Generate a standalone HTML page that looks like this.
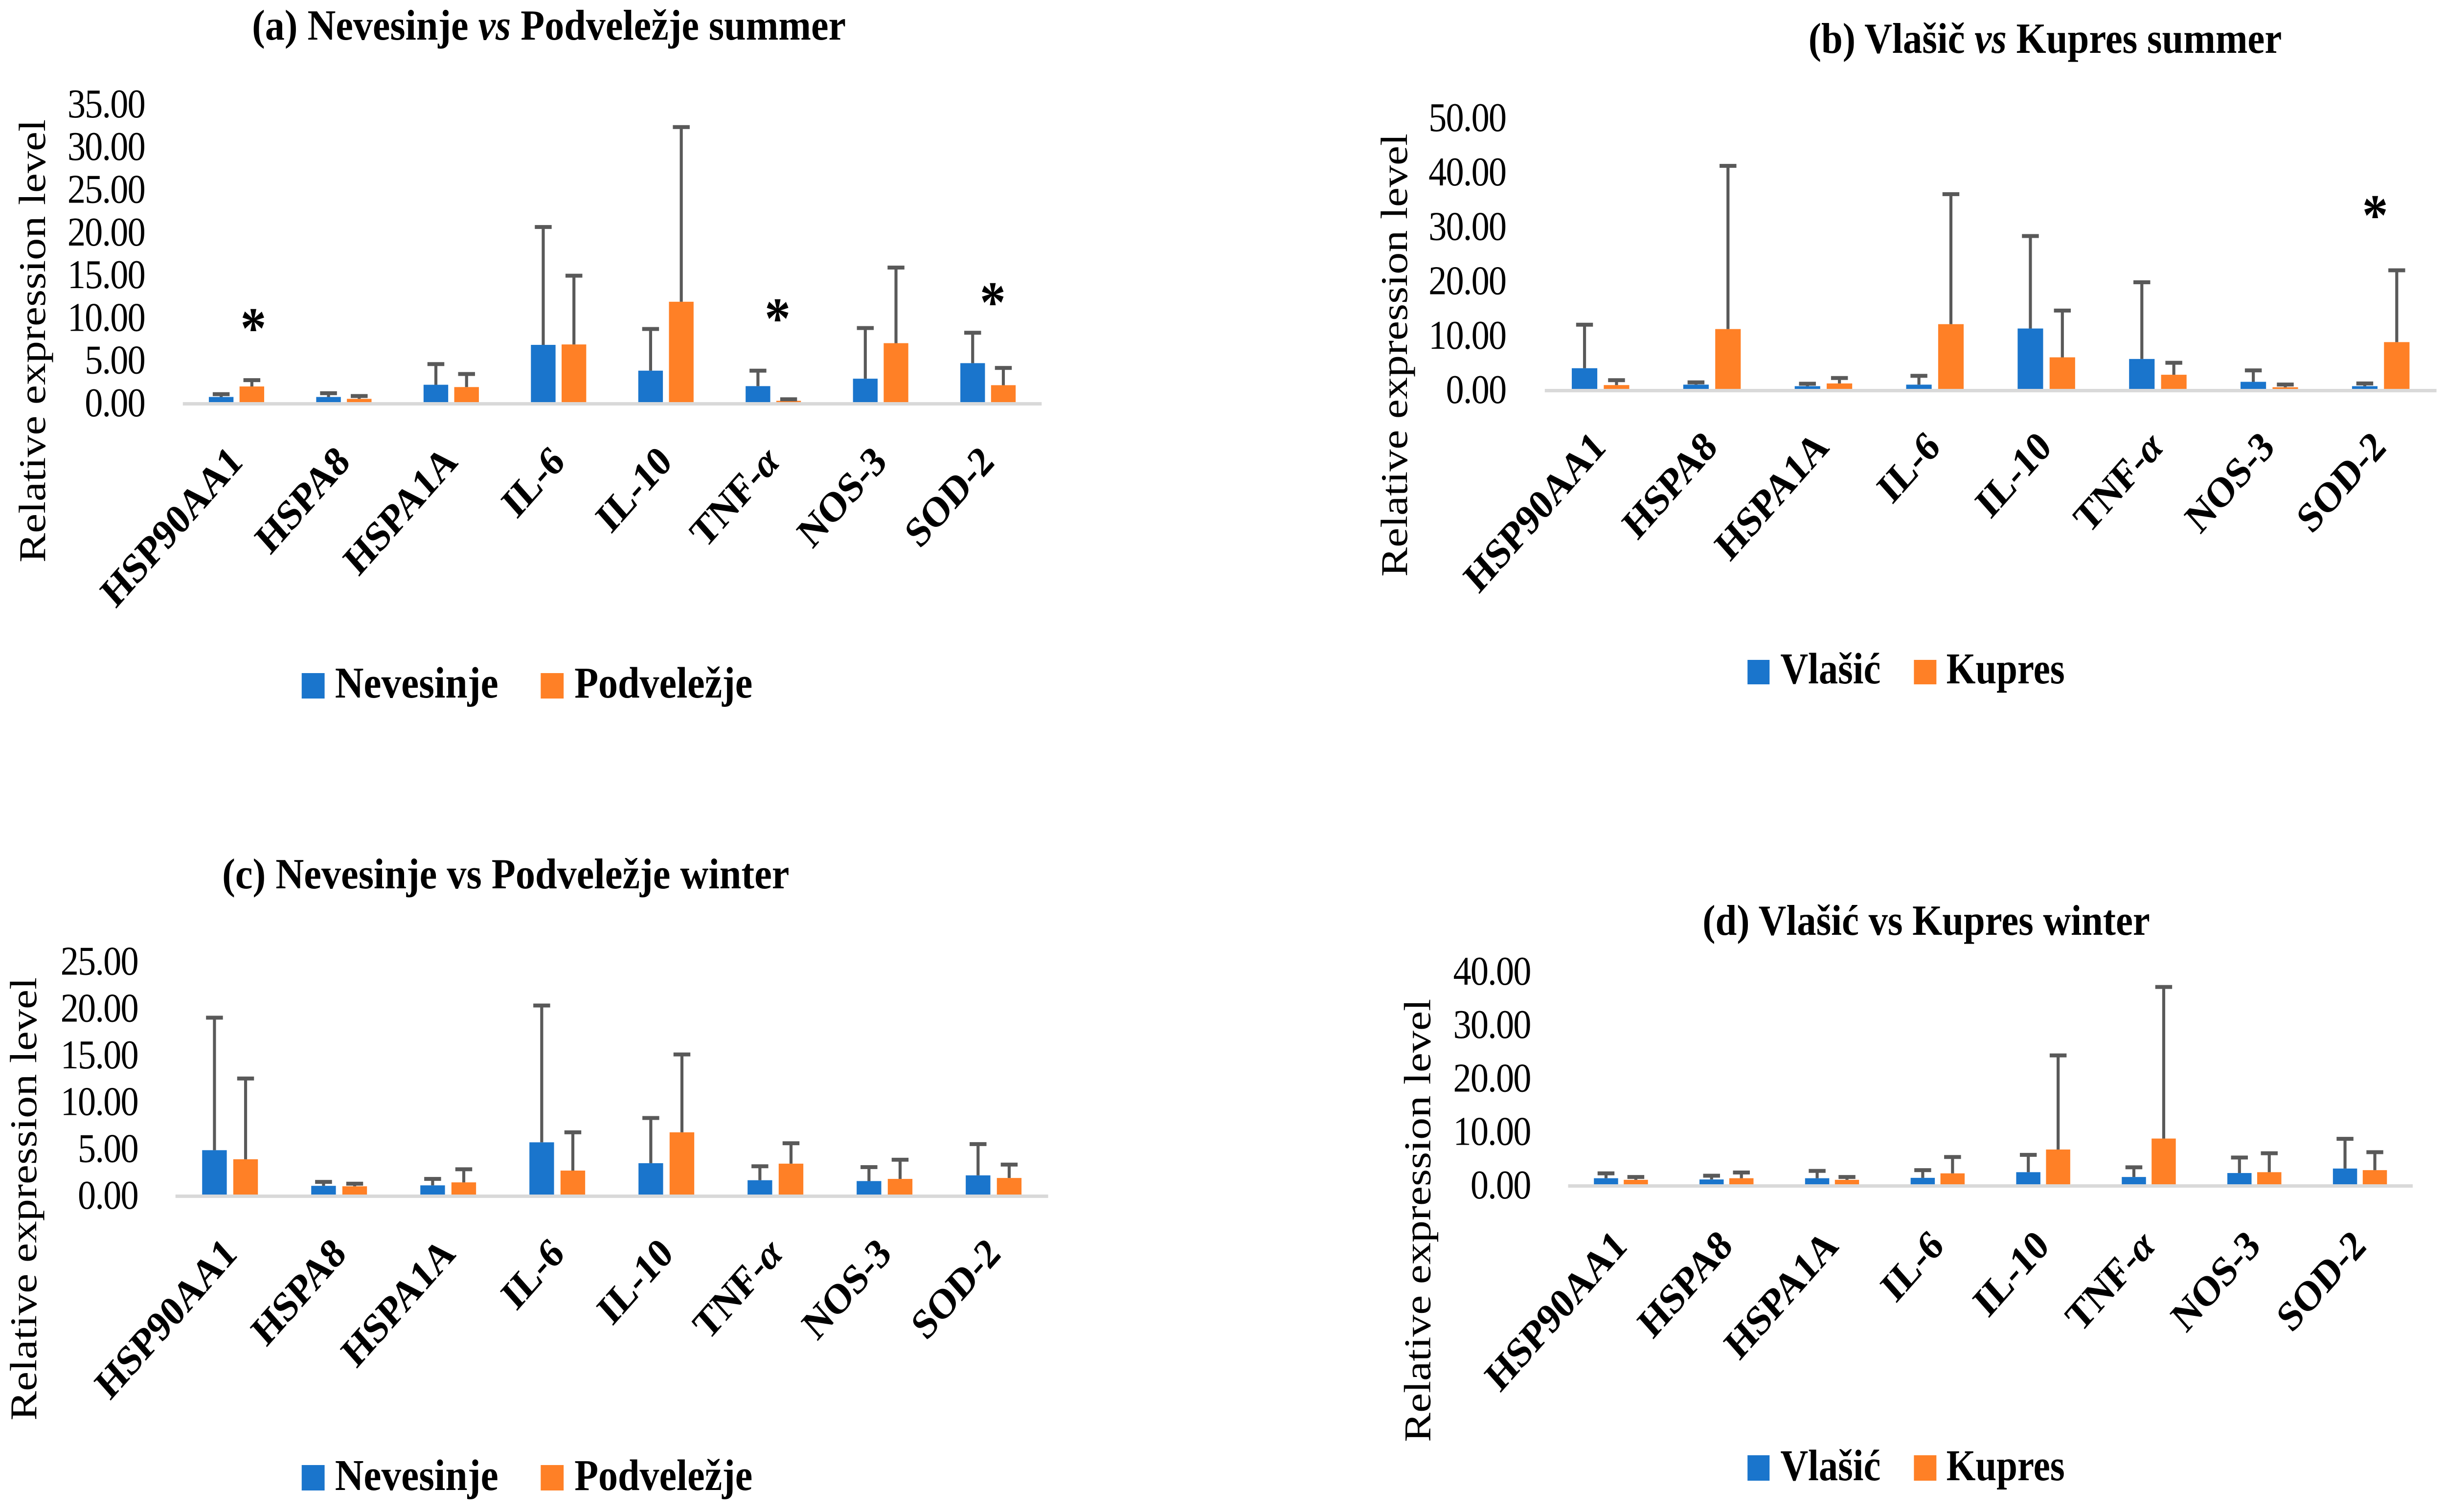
<!DOCTYPE html>
<html>
<head>
<meta charset="utf-8">
<title>Relative expression level charts</title>
<style>
html,body{margin:0;padding:0;background:#fff;width:100%;height:100%;overflow:hidden;}
svg{display:block;position:absolute;left:0;top:0;width:100vw;height:100vh;}
text{font-family:"Liberation Serif","DejaVu Serif",serif;fill:#000;}
.title{font-size:88px;font-weight:bold;}
.legend{font-size:90px;font-weight:bold;}
.ytitle{font-size:87px;}
.tick{font-size:84px;letter-spacing:-2px;text-anchor:end;}
.cat{font-size:86px;font-weight:bold;text-anchor:end;}
.star{font-size:120px;font-weight:bold;text-anchor:middle;}
</style>
</head>
<body>
<svg id="root" xmlns="http://www.w3.org/2000/svg" viewBox="0 0 5659 3091" preserveAspectRatio="none">
  <rect x="0" y="0" width="5659" height="3091" fill="#ffffff"/>

  <g id="panel-a">
    <text class="title" x="583" y="81" textLength="1374" lengthAdjust="spacingAndGlyphs">(a) Nevesinje <tspan font-style="italic">vs</tspan> Podveležje summer</text>
    <text class="ytitle" transform="translate(104,1150) rotate(-90)" textLength="906" lengthAdjust="spacingAndGlyphs">Relative expression level</text>
    <rect x="698" y="1376" width="53" height="52" fill="#1a75cc"/>
    <text class="legend" x="775" y="1426" textLength="378" lengthAdjust="spacingAndGlyphs">Nevesinje</text>
    <rect x="1251" y="1376" width="53" height="52" fill="#ff8026"/>
    <text class="legend" x="1329" y="1426" textLength="412" lengthAdjust="spacingAndGlyphs">Podveležje</text>
  </g>

  <g id="panel-b">
    <text class="title" x="4184" y="108" textLength="1095" lengthAdjust="spacingAndGlyphs">(b) Vlašič <tspan font-style="italic">vs</tspan> Kupres summer</text>
    <text class="ytitle" transform="translate(3255,1179) rotate(-90)" textLength="906" lengthAdjust="spacingAndGlyphs">Relative expression level</text>
    <rect x="4043" y="1349" width="51" height="50" fill="#1a75cc"/>
    <text class="legend" x="4119" y="1397" textLength="232" lengthAdjust="spacingAndGlyphs">Vlašić</text>
    <rect x="4428" y="1349" width="52" height="50" fill="#ff8026"/>
    <text class="legend" x="4503" y="1397" textLength="274" lengthAdjust="spacingAndGlyphs">Kupres</text>
  </g>

  <g id="panel-c">
    <text class="title" x="514" y="1816" textLength="1312" lengthAdjust="spacingAndGlyphs">(c) Nevesinje vs Podveležje winter</text>
    <text class="ytitle" transform="translate(84,2904) rotate(-90)" textLength="906" lengthAdjust="spacingAndGlyphs">Relative expression level</text>
    <rect x="698" y="2995" width="53" height="52" fill="#1a75cc"/>
    <text class="legend" x="775" y="3046" textLength="378" lengthAdjust="spacingAndGlyphs">Nevesinje</text>
    <rect x="1251" y="2995" width="53" height="52" fill="#ff8026"/>
    <text class="legend" x="1329" y="3046" textLength="412" lengthAdjust="spacingAndGlyphs">Podveležje</text>
  </g>

  <g id="panel-d">
    <text class="title" x="3939" y="1911" textLength="1035" lengthAdjust="spacingAndGlyphs">(d) Vlašić vs Kupres winter</text>
    <text class="ytitle" transform="translate(3309,2948) rotate(-90)" textLength="906" lengthAdjust="spacingAndGlyphs">Relative expression level</text>
    <rect x="4043" y="2975" width="51" height="52" fill="#1a75cc"/>
    <text class="legend" x="4119" y="3026" textLength="232" lengthAdjust="spacingAndGlyphs">Vlašić</text>
    <rect x="4428" y="2975" width="52" height="52" fill="#ff8026"/>
    <text class="legend" x="4503" y="3026" textLength="274" lengthAdjust="spacingAndGlyphs">Kupres</text>
  </g>
</svg>

<script>
var categories = ['HSP90AA1','HSPA8','HSPA1A','IL-6','IL-10','TNF-α','NOS-3','SOD-2'];

var aTicks = ['0.00','5.00','10.00','15.00','20.00','25.00','30.00','35.00'];
var aBlue = [0.6,0.6,2.03,6.7,3.68,1.87,2.74,4.56];
var aOrange = [1.83,0.38,1.76,6.75,11.75,0.15,6.9,1.98];
var aBlueErrTop = [0.93,1.04,4.45,20.5,8.56,3.68,8.67,8.12];
var aOrangeErrTop = [2.57,0.71,3.29,14.8,32.2,0.33,15.75,4.0];
var aStars = ['HSP90AA1','TNF-α','SOD-2'];

var bTicks = ['0.00','10.00','20.00','30.00','40.00','50.00'];
var bBlue = [3.8,0.78,0.5,0.78,11.1,5.5,1.3,0.5];
var bOrange = [0.7,11.0,1.0,11.9,5.8,2.6,0.3,8.6];
var bBlueErrTop = [11.8,1.2,0.95,2.4,28.1,19.6,3.4,1.0];
var bOrangeErrTop = [1.6,41.0,2.0,35.8,14.4,4.8,0.8,21.8];
var bStars = ['SOD-2'];

var cTicks = ['0.00','5.00','10.00','15.00','20.00','25.00'];
var cBlue = [4.74,0.93,0.98,5.58,3.35,1.53,1.44,2.05];
var cOrange = [3.77,0.88,1.3,2.56,6.65,3.3,1.67,1.77];
var cBlueErrTop = [18.9,1.35,1.67,20.2,8.18,3.02,2.93,5.39];
var cOrangeErrTop = [12.4,1.16,2.7,6.65,14.97,5.48,3.72,3.2];
var cStars = [];

var dTicks = ['0.00','10.00','20.00','30.00','40.00'];
var dBlue = [1.13,0.9,1.13,1.2,2.26,1.36,2.1,2.94];
var dOrange = [0.83,1.13,0.83,2.04,6.5,8.55,2.26,2.64];
var dBlueErrTop = [2.04,1.6,2.5,2.64,5.5,3.17,5.0,8.5];
var dOrangeErrTop = [1.36,2.2,1.36,5.1,24.1,36.9,5.8,6.0];
var dStars = [];

var NS = 'http://www.w3.org/2000/svg';

function make(parent, tag, attrs) {
  var el = document.createElementNS(NS, tag);
  for (var k in attrs) { el.setAttribute(k, attrs[k]); }
  parent.appendChild(el);
  return el;
}

function drawPanel(id, layout, ticks, blue, orange, blueErr, orangeErr, stars) {
  var g = document.getElementById(id);
  var pitch = (layout.x1 - layout.x0) / categories.length;
  function yScale(v) { return layout.base - v * layout.unit; }
  function xCenter(i) { return layout.x0 + pitch * (i + 0.5); }

  ticks.forEach(function (label) {
    var t = make(g, 'text', {'class': 'tick', x: layout.tickRight, y: yScale(parseFloat(label)) + 29});
    
    
    t.textContent = label;
  });

  var axis = make(g, 'rect', {x: layout.x0, y: layout.base, width: layout.x1 - layout.x0, height: 7, fill: '#d9d9d9'});
  
  

  function series(values, tops, offset, colour, seriesName) {
    values.forEach(function (v, i) {
      var left = xCenter(i) + offset;
      var mid = left + layout.barW / 2;
      var bar = make(g, 'rect', {x: left, y: yScale(v), width: layout.barW, height: v * layout.unit, fill: colour});
      
      
      var stem = make(g, 'rect', {x: mid - 3.5, y: yScale(tops[i]), width: 7, height: (tops[i] - v) * layout.unit, fill: '#595959'});
      
      
      var cap = make(g, 'rect', {x: mid - 19.5, y: yScale(tops[i]) - 4, width: 39, height: 8, fill: '#595959'});
      
      
    });
  }
  series(blue, blueErr, -layout.gap / 2 - layout.barW, '#1a75cc', 'blue-series');
  series(orange, orangeErr, layout.gap / 2, '#ff8026', 'orange-series');

  categories.forEach(function (name, i) {
    var ax = xCenter(i) + layout.labelDx;
    var ay = layout.base + layout.labelDy;
    var t = make(g, 'text', {'class': 'cat', transform: 'translate(' + ax + ',' + ay + ') rotate(-45)'});
    
    
    var parts = name.split('α');
    t.appendChild(document.createTextNode(parts[0]));
    if (parts.length > 1) {
      var a = make(t, 'tspan', {'font-style': 'italic'});
      a.textContent = 'α';
    }
  });

  stars.forEach(function (name) {
    var i = categories.indexOf(name);
    var place = layout.stars[name];
    var s = make(g, 'text', {'class': 'star', x: xCenter(i) + place.dx, y: place.y});
    
    
    s.textContent = '*';
  });
}

drawPanel('panel-a', {x0: 423, x1: 2410, base: 822, unit: 17.46, barW: 57, gap: 14, tickRight: 335, labelDx: 18, labelDy: 126,
  stars: {'HSP90AA1': {dx: 39, y: 711}, 'TNF-α': {dx: 10, y: 691}, 'SOD-2': {dx: 11, y: 658}}}, aTicks, aBlue, aOrange, aBlueErrTop, aOrangeErrTop, aStars);
drawPanel('panel-b', {x0: 3574, x1: 5637, base: 795, unit: 11.12, barW: 59, gap: 15, tickRight: 3484, labelDx: 16, labelDy: 123,
  stars: {'SOD-2': {dx: -13, y: 480}}}, bTicks, bBlue, bOrange, bBlueErrTop, bOrangeErrTop, bStars);
drawPanel('panel-c', {x0: 406, x1: 2425, base: 2442, unit: 19.13, barW: 57, gap: 15, tickRight: 319, labelDx: 20, labelDy: 125, stars: {}},
  cTicks, cBlue, cOrange, cBlueErrTop, cOrangeErrTop, cStars);
drawPanel('panel-d', {x0: 3628, x1: 5582, base: 2421, unit: 10.93, barW: 56, gap: 13, tickRight: 3541, labelDx: 18, labelDy: 130, stars: {}},
  dTicks, dBlue, dOrange, dBlueErrTop, dOrangeErrTop, dStars);
</script>
</body>
</html>
